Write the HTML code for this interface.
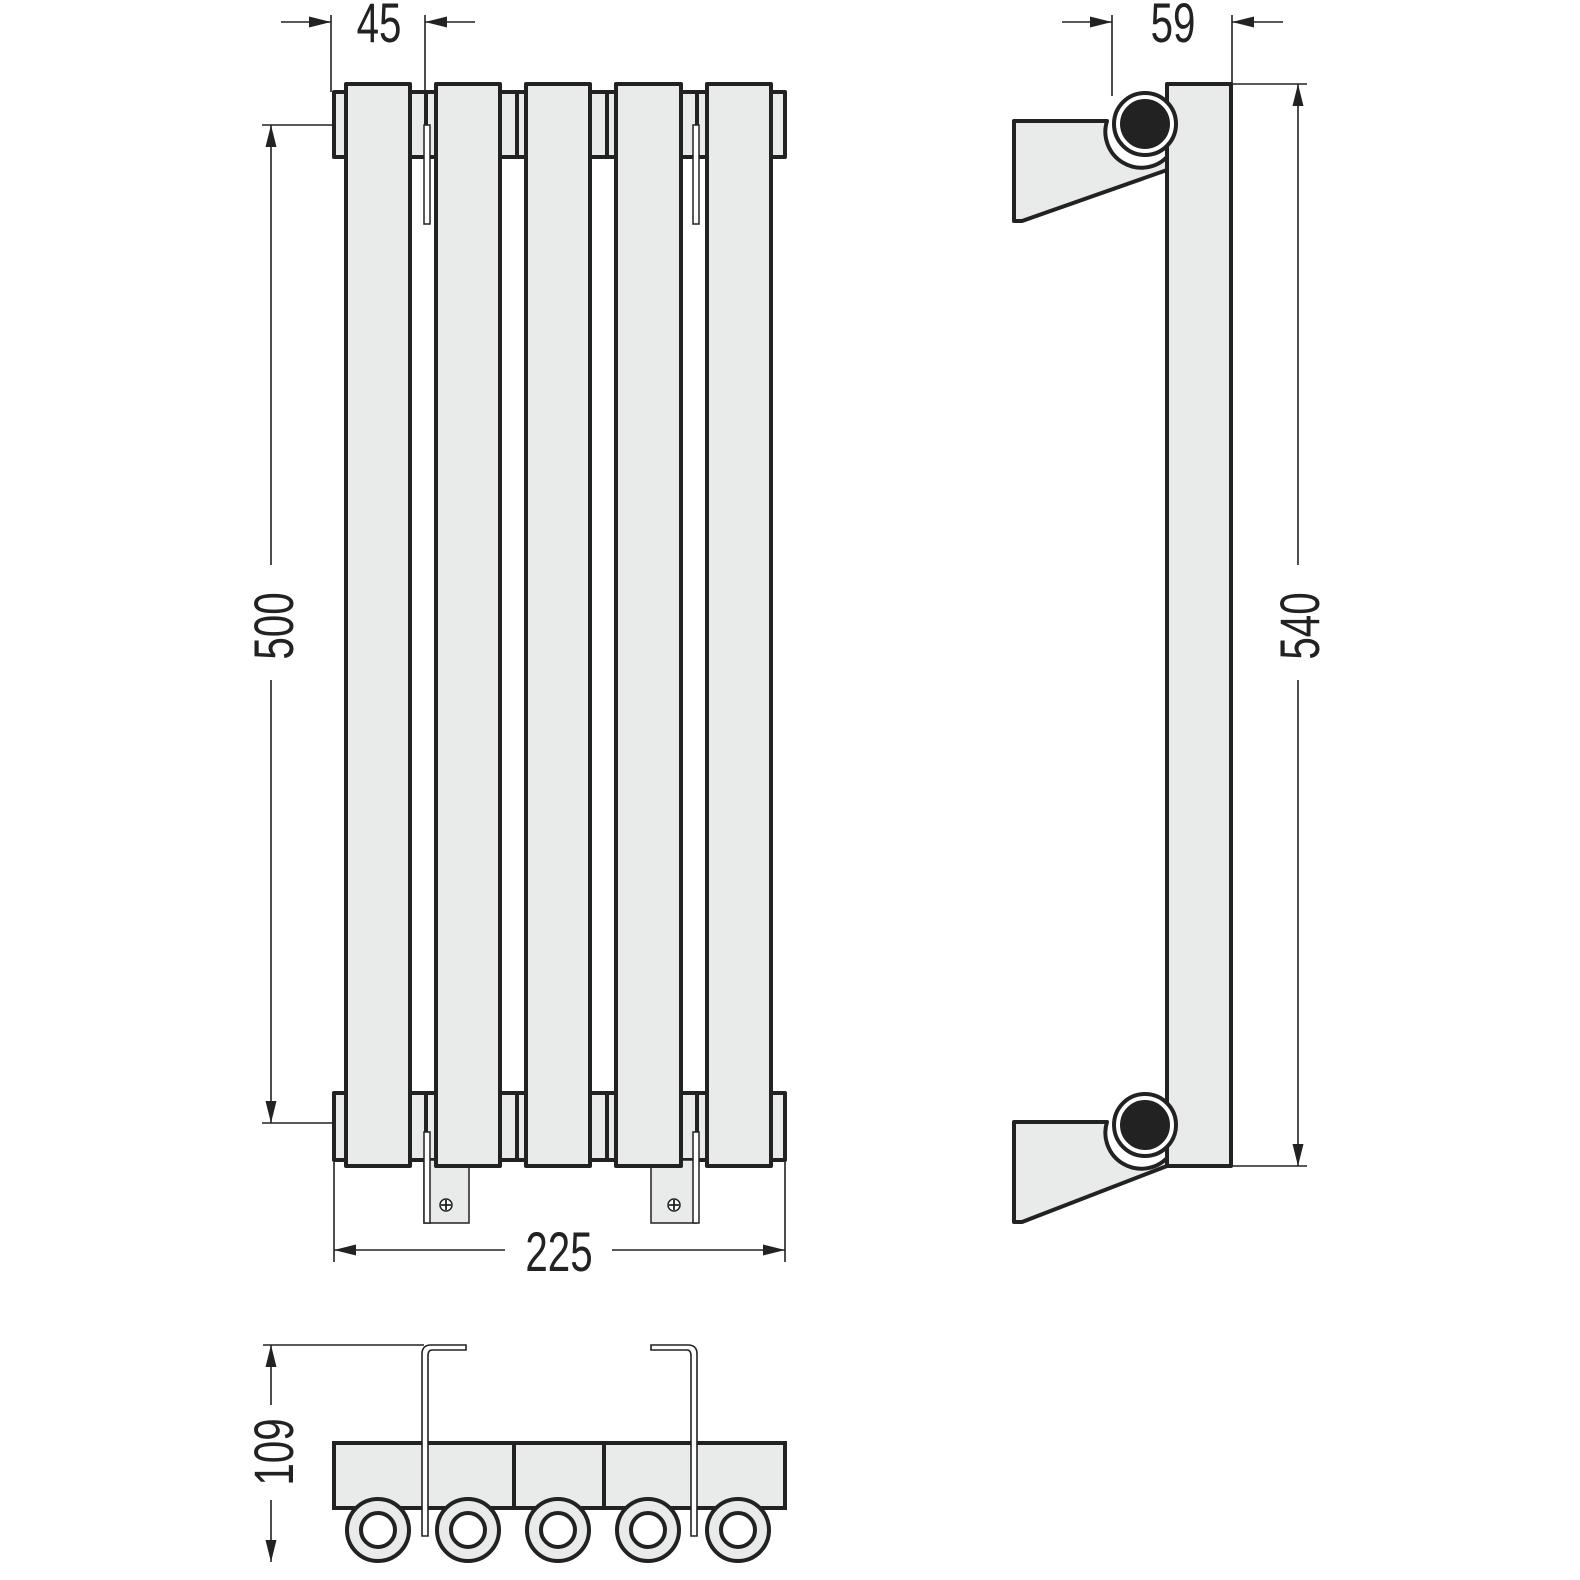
<!DOCTYPE html>
<html><head><meta charset="utf-8"><style>html,body{margin:0;padding:0;background:#fff}svg{display:block}</style></head>
<body>
<svg width="1580" height="1580" viewBox="0 0 1580 1580" xmlns="http://www.w3.org/2000/svg">
<defs>
<marker id="ar" markerWidth="12" markerHeight="8" refX="12" refY="4" orient="auto" markerUnits="userSpaceOnUse"><path d="M0,0 L24,4 L0,8 Z" fill="#222"/></marker>
<marker id="a" viewBox="0 0 20 10" markerWidth="22" markerHeight="11" refX="20" refY="5" orient="auto" markerUnits="userSpaceOnUse"><path d="M0,0 L20,5 L0,10 Z" fill="#222"/></marker>
</defs>
<g fill="#e9eaea" stroke="#222" stroke-width="4" stroke-linejoin="round">
<!-- top collector -->
<rect x="334" y="92" width="451" height="65"/>
<rect x="334" y="1093" width="451" height="67"/>
</g>
<!-- white gaps between columns (mid area) -->
<g fill="#fff"><rect x="412" y="159" width="22" height="932"/><rect x="502" y="159" width="22" height="932"/><rect x="592" y="159" width="22" height="932"/><rect x="683" y="159" width="22" height="932"/></g>
<g stroke="#222" stroke-width="4"><line x1="517" y1="92" x2="517" y2="157"/><line x1="607" y1="92" x2="607" y2="157"/><line x1="517" y1="1093" x2="517" y2="1160"/><line x1="607" y1="1093" x2="607" y2="1160"/><line x1="426" y1="92" x2="426" y2="125"/><line x1="697" y1="92" x2="697" y2="125"/><line x1="426" y1="1093" x2="426" y2="1132"/><line x1="697" y1="1093" x2="697" y2="1132"/></g>
<!-- brackets bottom plates -->
<g fill="#e9eaea" stroke="#222" stroke-width="1.5">
<rect x="424" y="1160" width="45" height="63"/><rect x="651" y="1160" width="45" height="63"/>
<rect x="424" y="125" width="6" height="99" fill="#fff"/><rect x="693" y="125" width="6" height="99" fill="#fff"/>
<rect x="424" y="1132" width="6" height="91" fill="#fff"/><rect x="693" y="1132" width="6" height="91" fill="#fff"/>
<circle cx="446" cy="1205" r="6" fill="#fff"/><circle cx="674" cy="1205" r="6" fill="#fff"/>
</g>
<g stroke="#222" stroke-width="1.8"><path d="M441,1205h10M446,1200v10M669,1205h10M674,1200v10"/></g>
<!-- columns -->
<g fill="#e9eaea" stroke="#222" stroke-width="4" stroke-linejoin="round">
<rect x="346" y="84" width="64" height="1082"/>
<rect x="436" y="84" width="64" height="1082"/>
<rect x="526" y="84" width="64" height="1082"/>
<rect x="616" y="84" width="65" height="1082"/>
<rect x="707" y="84" width="64" height="1082"/>
</g>
<!-- dimensions front -->
<g stroke="#222" stroke-width="1.6" fill="none">
<line x1="331" y1="15" x2="331" y2="92"/><line x1="425" y1="15" x2="425" y2="92"/>
<line x1="281" y1="22" x2="331" y2="22" marker-end="url(#a)"/><line x1="475" y1="22" x2="425" y2="22" marker-end="url(#a)"/>
<line x1="262" y1="125" x2="332" y2="125"/><line x1="262" y1="1123" x2="332" y2="1123"/>
<line x1="271" y1="565" x2="271" y2="125" marker-end="url(#a)"/><line x1="271" y1="680" x2="271" y2="1123" marker-end="url(#a)"/>
<line x1="334" y1="1162" x2="334" y2="1262"/><line x1="785" y1="1162" x2="785" y2="1262"/>
<line x1="505" y1="1250" x2="334" y2="1250" marker-end="url(#a)"/><line x1="612" y1="1250" x2="785" y2="1250" marker-end="url(#a)"/>
<!-- side -->
<line x1="1112" y1="15" x2="1112" y2="96"/><line x1="1232" y1="15" x2="1232" y2="84"/>
<line x1="1062" y1="22" x2="1112" y2="22" marker-end="url(#a)"/><line x1="1283" y1="22" x2="1232" y2="22" marker-end="url(#a)"/>
<line x1="1232" y1="84" x2="1307" y2="84"/><line x1="1232" y1="1166" x2="1307" y2="1166"/>
<line x1="1298" y1="565" x2="1298" y2="84" marker-end="url(#a)"/><line x1="1298" y1="680" x2="1298" y2="1166" marker-end="url(#a)"/>
<!-- bottom -->
<line x1="263" y1="1345" x2="424" y2="1345"/>
<line x1="271" y1="1405" x2="271" y2="1345" marker-end="url(#a)"/><line x1="271" y1="1500" x2="271" y2="1562" marker-end="url(#a)"/>
</g>
<g font-family="Liberation Sans, sans-serif" font-size="56" fill="#222" text-anchor="middle">
<text transform="translate(379,42) scale(0.72,1)">45</text>
<text transform="translate(1173,42) scale(0.72,1)">59</text>
<text transform="translate(559,1271) scale(0.72,1)">225</text>
<text transform="translate(293,626) rotate(-90) scale(0.72,1)">500</text>
<text transform="translate(1319,626) rotate(-90) scale(0.72,1)">540</text>
<text transform="translate(293,1452) rotate(-90) scale(0.72,1)">109</text>
</g>
<!-- side view -->
<g fill="#e9eaea" stroke="#222" stroke-width="4" stroke-linejoin="round">
<path d="M1014,121 H1107 A36,36 0 0 0 1167,157 V170 L1022,221 H1014 Z"/>
<path d="M1014,1122 H1107 A36,36 0 0 0 1167,1158 V1166 L1022,1222 H1014 Z"/>
<rect x="1167" y="84" width="64" height="1082"/>
</g>
<g stroke="#222" stroke-width="4"><circle cx="1145" cy="124" r="31" fill="#fff"/><circle cx="1145" cy="124" r="23" fill="#222"/>
<circle cx="1145" cy="1125" r="31" fill="#fff"/><circle cx="1145" cy="1125" r="23" fill="#222"/></g>
<!-- bottom view -->
<g fill="#e9eaea" stroke="#222" stroke-width="4">
<rect x="334" y="1443" width="451" height="65"/>
<line x1="424" y1="1443" x2="424" y2="1508"/><line x1="514" y1="1443" x2="514" y2="1508"/><line x1="604" y1="1443" x2="604" y2="1508"/><line x1="694" y1="1443" x2="694" y2="1508"/>
<circle cx="378" cy="1530" r="31"/><circle cx="468" cy="1530" r="31"/><circle cx="558" cy="1530" r="31"/><circle cx="648" cy="1530" r="31"/><circle cx="738" cy="1530" r="31"/>
<circle cx="378" cy="1530" r="17" fill="#fff"/><circle cx="468" cy="1530" r="17" fill="#fff"/><circle cx="558" cy="1530" r="17" fill="#fff"/><circle cx="648" cy="1530" r="17" fill="#fff"/><circle cx="738" cy="1530" r="17" fill="#fff"/>
</g>
<g fill="#fff" stroke="#222" stroke-width="1.6">
<path d="M422,1536 V1354 Q422,1345 431,1345 H466 V1350 H432 Q428,1350 428,1356 V1536 Z"/>
<path d="M697,1536 V1354 Q697,1345 688,1345 H651 V1350 H687 Q691,1350 691,1356 V1536 Z"/>
</g>
</svg>
</body></html>
